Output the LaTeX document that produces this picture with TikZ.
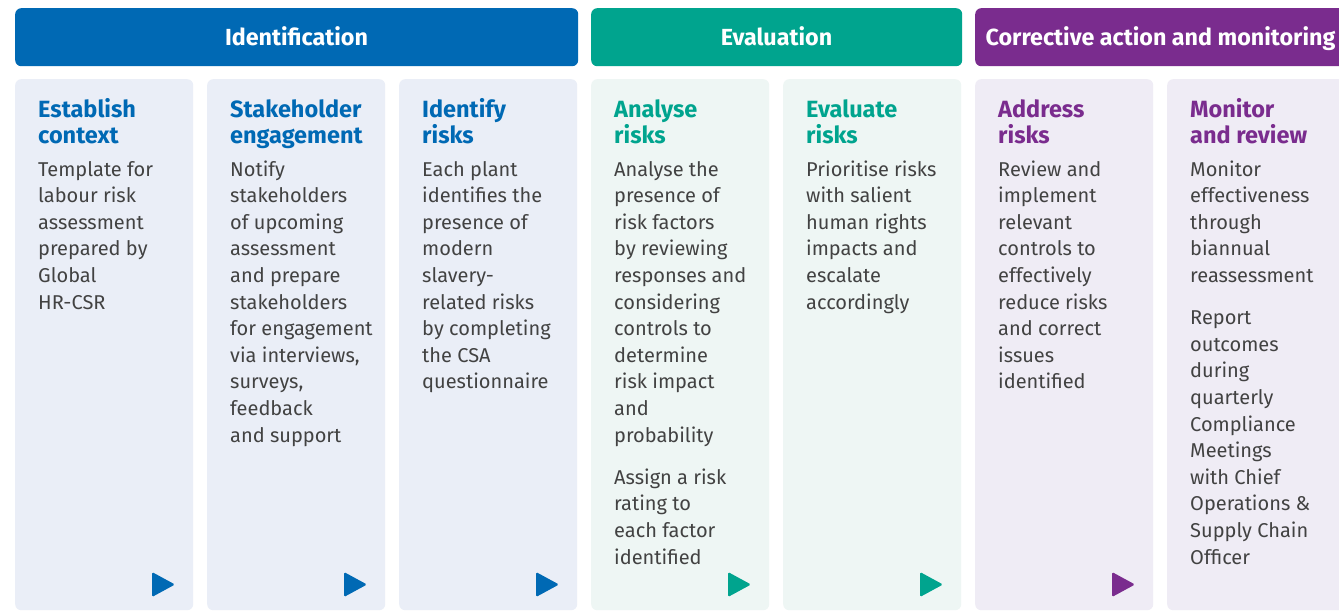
\documentclass[tikz,border=0pt]{standalone}
\usepackage{fontspec}
\setmainfont{Fira Sans}

\definecolor{idblue}{HTML}{0069B4}
\definecolor{evteal}{HTML}{00A48E}
\definecolor{copurple}{HTML}{7A2C8E}
\definecolor{idbg}{HTML}{EAEEF7}
\definecolor{evbg}{HTML}{EEF6F4}
\definecolor{cobg}{HTML}{EFECF5}
\definecolor{bodygray}{HTML}{424242}

\tikzset{
  headbox/.style={rectangle, draw=none, rounded corners=6pt, minimum height=58pt, inner sep=0pt, anchor=north west},
  headtext/.style={text=white, inner sep=0pt, anchor=base, font=\fontsize{23.3}{28}\selectfont\bfseries},
  cardbox/.style={rectangle, draw=none, rounded corners=6pt, minimum width=178pt, minimum height=531pt, inner sep=0pt, anchor=north west},
  titletext/.style={inner sep=0pt, anchor=base west},
  bodytext/.style={inner sep=0pt, anchor=base west, text=bodygray},
}

% one process stage: name, left edge, accent colour, card colour, title, body
\newcommand\stagecard[6]{%
  \node[cardbox, fill=#4] (#1) at (#2,79) {};
  \node[titletext, text=#3] (#1-title) at (#2+23,117)
    {\parbox[t]{170pt}{\raggedright\fontsize{23.5}{26.6}\selectfont\bfseries #5}};
  \node[bodytext] (#1-body) at (#2+23,176)
    {\parbox[t]{170pt}{\raggedright\fontsize{20}{26.6}\selectfont #6}};
}
% play marker in the lower right corner of a stage card
\newcommand\nextmark[2]{%
  \fill[#2, rounded corners=1.5pt] (#1+137,572) -- (#1+160,584.5) -- (#1+137,597) -- cycle;
}

\begin{document}
\begin{tikzpicture}[x=1pt, y=-1pt]
\useasboundingbox (0,0) rectangle (1339,611);
\clip (0,0) rectangle (1339,611);
\fill[white] (0,0) rectangle (1339,611);

% phase headers
\node[headbox, fill=idblue, minimum width=563pt] (hid) at (15,8) {};
\node[headtext] (hid-label) at (296.5,45) {Identification};
\node[headbox, fill=evteal, minimum width=371pt] (hev) at (591,8) {};
\node[headtext] (hev-label) at (776.5,45) {Evaluation};
\node[headbox, fill=copurple, minimum width=370pt] (hco) at (975,8) {};
\node[headtext] (hco-label) at (1160.5,45) {Corrective action and monitoring};

% stages
\stagecard{s1}{15}{idblue}{idbg}{Establish\\context}
  {Template for\\labour risk\\assessment\\prepared by\\Global\\HR-CSR}
\stagecard{s2}{207}{idblue}{idbg}{Stakeholder\\engagement}
  {Notify\\stakeholders\\of upcoming\\assessment\\and prepare\\stakeholders\\for engagement\\via interviews,\\surveys,\\feedback\\and support}
\stagecard{s3}{399}{idblue}{idbg}{Identify\\risks}
  {Each plant\\identifies the\\presence of\\modern\\slavery-\\related risks\\by completing\\the CSA\\questionnaire}
\stagecard{s4}{591}{evteal}{evbg}{Analyse\\risks}
  {Analyse the\\presence of\\risk factors\\by reviewing\\responses and\\considering\\controls to\\determine\\risk impact\\and\\probability\\[15.7pt]Assign a risk\\rating to\\each factor\\identified}
\stagecard{s5}{783}{evteal}{evbg}{Evaluate\\risks}
  {Prioritise risks\\with salient\\human rights\\impacts and\\escalate\\accordingly}
\stagecard{s6}{975}{copurple}{cobg}{Address\\risks}
  {Review and\\implement\\relevant\\controls to\\effectively\\reduce risks\\and correct\\issues\\identified}
\stagecard{s7}{1167}{copurple}{cobg}{Monitor\\and review}
  {Monitor\\effectiveness\\through\\biannual\\reassessment\\[15.7pt]Report\\outcomes\\during\\quarterly\\Compliance\\Meetings\\with Chief\\Operations \&\\Supply Chain\\Officer}

% markers leading on to the next stage
\nextmark{15}{idblue}
\nextmark{207}{idblue}
\nextmark{399}{idblue}
\nextmark{591}{evteal}
\nextmark{783}{evteal}
\nextmark{975}{copurple}
\end{tikzpicture}
\end{document}
